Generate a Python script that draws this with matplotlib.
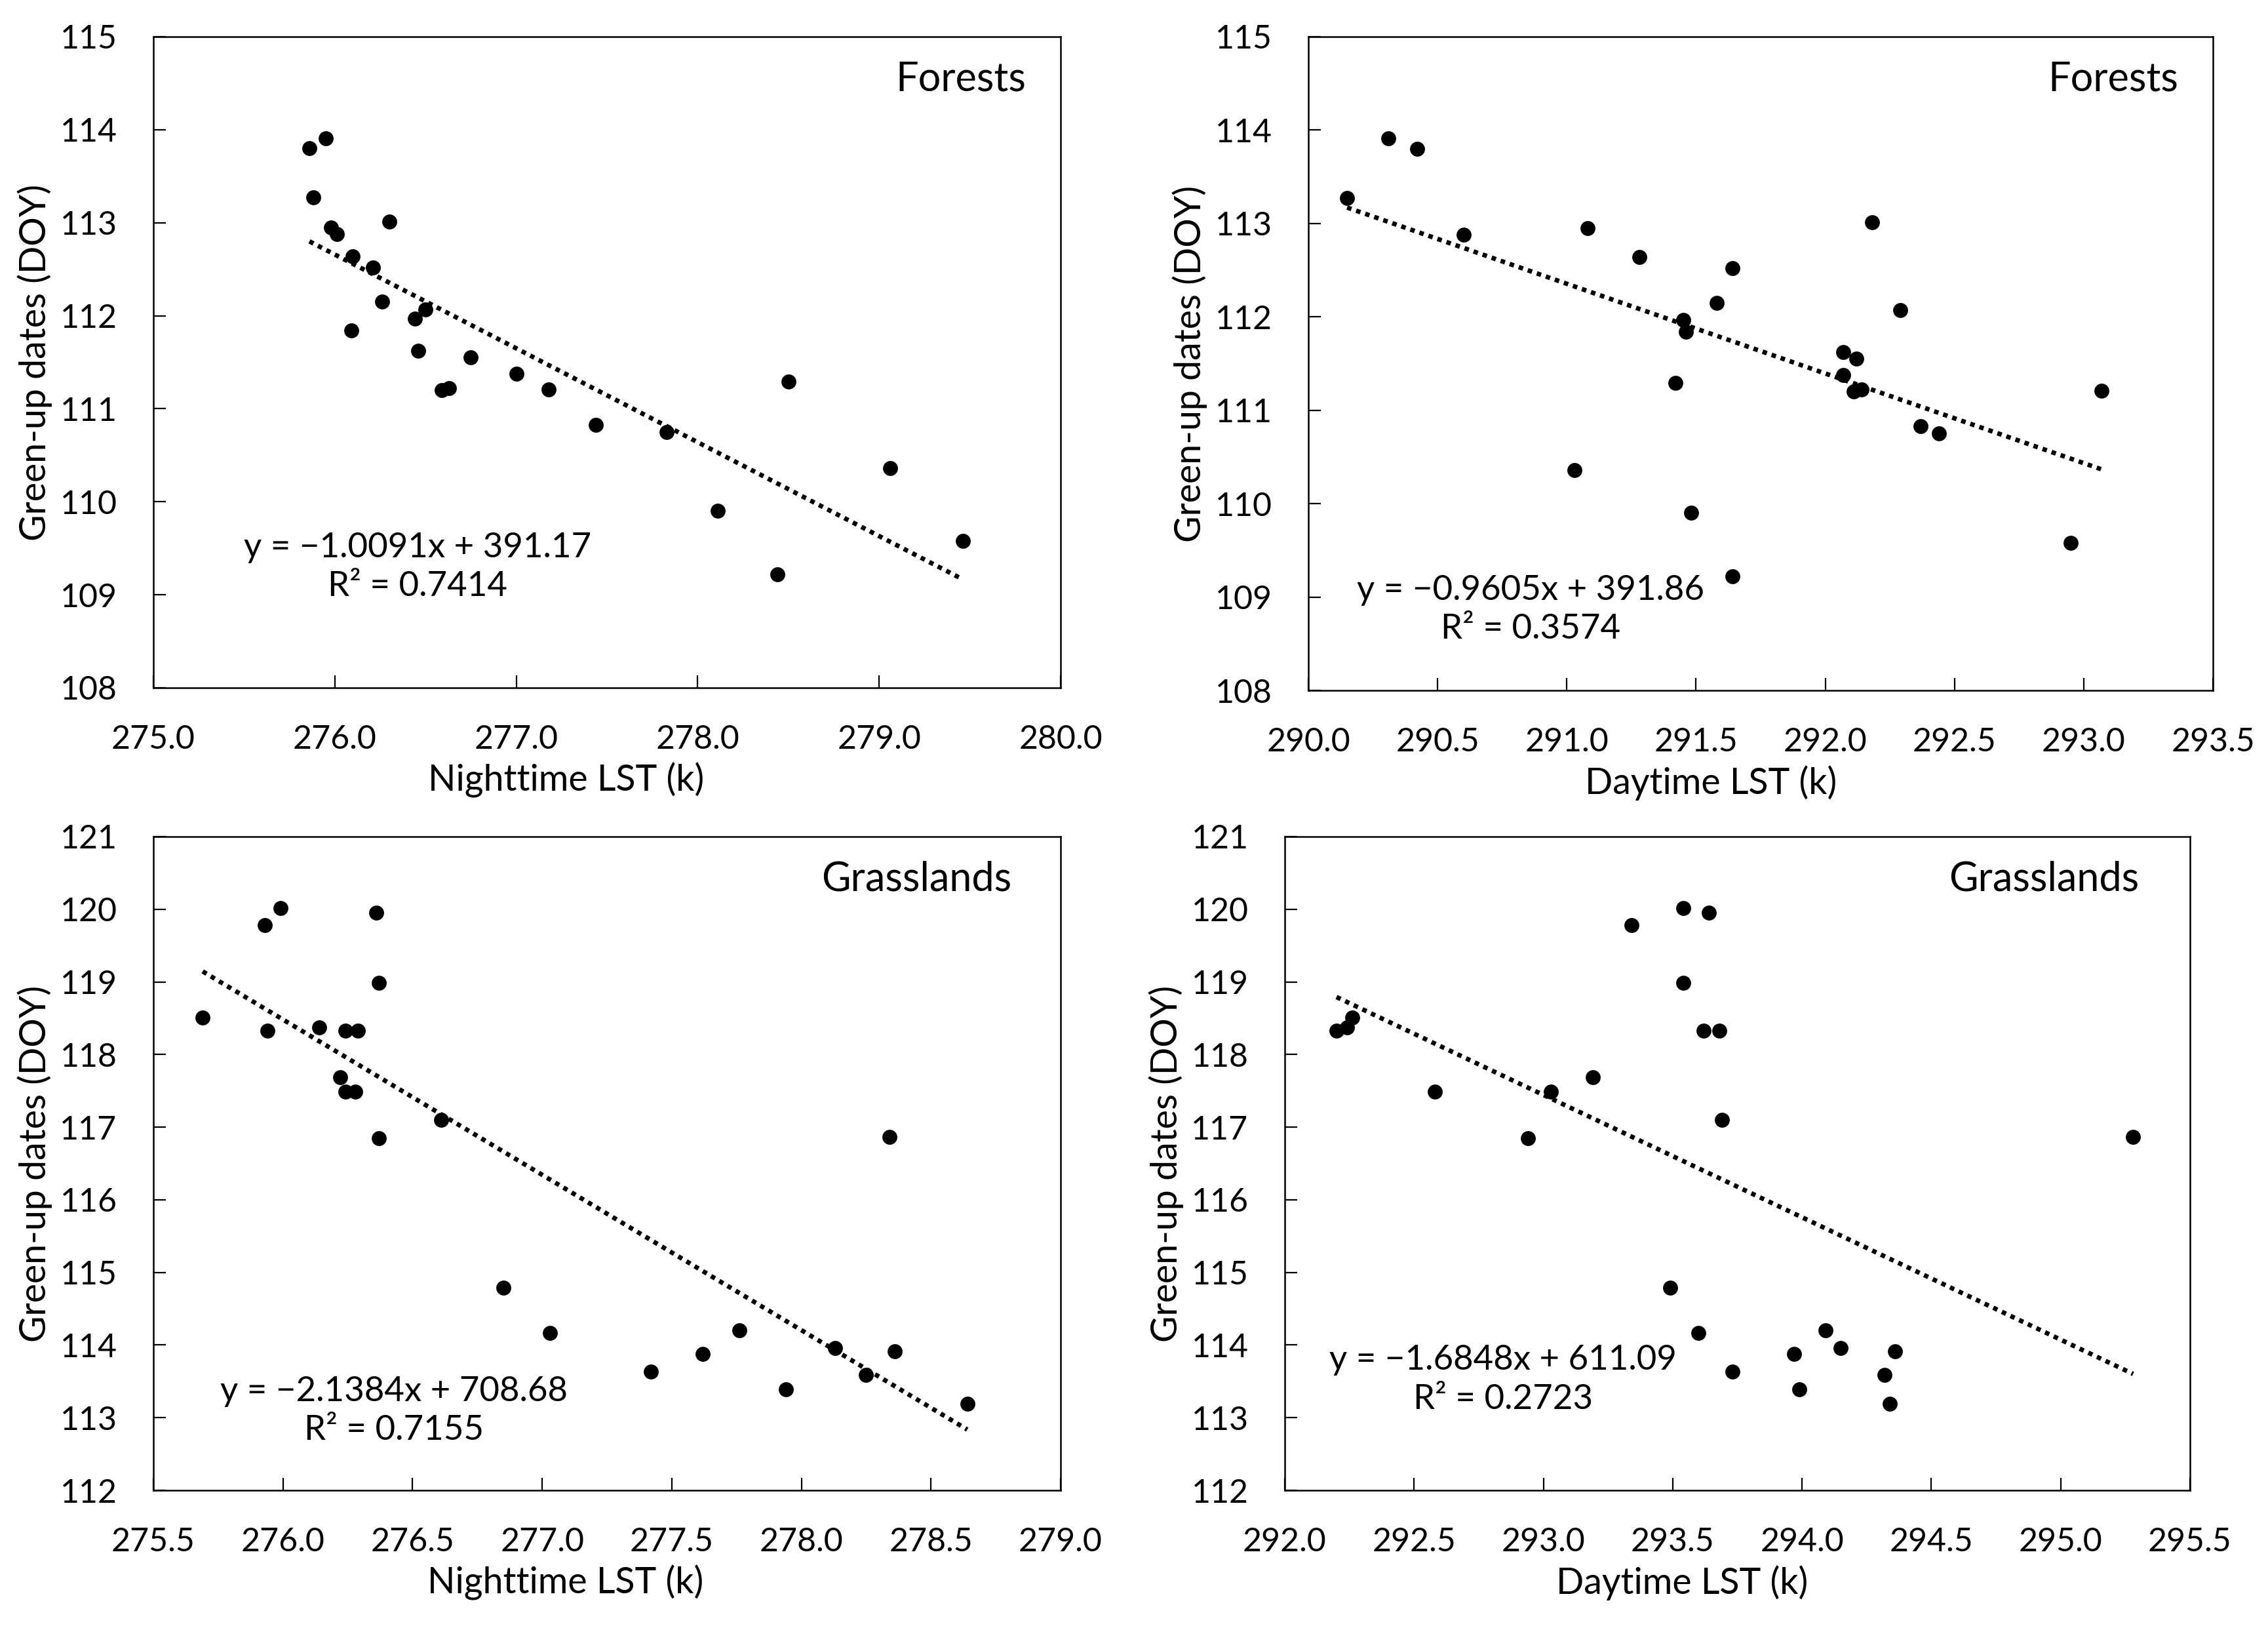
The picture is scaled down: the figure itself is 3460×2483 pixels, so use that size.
import matplotlib
matplotlib.use('Agg')
import matplotlib.pyplot as plt
import numpy as np
from matplotlib.ticker import FormatStrFormatter

# ---------------- data ----------------
forest_doy = [113.91, 113.80, 113.27, 113.01, 112.95, 112.88, 112.64, 112.52, 112.15, 112.07,
              111.97, 111.84, 111.62, 111.55, 111.38, 111.29, 111.21, 111.22, 111.20, 110.83,
              110.75, 110.36, 109.90, 109.58, 109.22]
forest_night_lst = [275.95, 275.86, 275.88, 276.30, 275.98, 276.01, 276.10, 276.21, 276.26, 276.50,
                    276.44, 276.09, 276.46, 276.75, 277.00, 278.50, 277.18, 276.63, 276.59, 277.44,
                    277.83, 279.06, 278.11, 279.46, 278.44]
forest_day_lst = [290.31, 290.42, 290.15, 292.18, 291.08, 290.60, 291.28, 291.64, 291.58, 292.29,
                  291.45, 291.46, 292.07, 292.12, 292.07, 291.42, 293.07, 292.14, 292.11, 292.37,
                  292.44, 291.03, 291.48, 292.95, 291.64]

grass_doy = [118.51, 119.78, 120.02, 118.33, 118.33, 118.33, 118.37, 119.95, 118.99, 117.69,
             117.49, 117.49, 116.85, 117.10, 114.79, 114.17, 113.63, 113.88, 114.20, 113.39,
             113.96, 113.59, 116.87, 113.91, 113.19]
grass_night_lst = [275.69, 275.93, 275.99, 275.94, 276.24, 276.29, 276.14, 276.36, 276.37, 276.22,
                   276.24, 276.28, 276.37, 276.61, 276.85, 277.03, 277.42, 277.62, 277.76, 277.94,
                   278.13, 278.25, 278.34, 278.36, 278.64]
grass_day_lst = [292.26, 293.34, 293.54, 292.20, 293.62, 293.68, 292.24, 293.64, 293.54, 293.19,
                 292.58, 293.03, 292.94, 293.69, 293.49, 293.60, 293.73, 293.97, 294.09, 293.99,
                 294.15, 294.32, 295.28, 294.36, 294.34]

# trend line coefficients (slope, intercept) and R²
fit_forest_night = (-1.0091, 391.17, 0.7414)
fit_forest_day = (-0.9605, 391.86, 0.3574)
fit_grass_night = (-2.1384, 708.68, 0.7155)
fit_grass_day = (-1.6848, 611.09, 0.2723)

x_label_night = "Nighttime LST (k)"
x_label_day = "Daytime LST (k)"
y_label = "Green-up dates (DOY)"

# ---------------- style ----------------
plt.rcParams['font.family'] = ['Lato', 'DejaVu Sans']
FS_TICK = 36
FS_LABEL = 40
FS_EQ = 38
FS_TITLE = 44
W, H = 3460, 2483
fig = plt.figure(figsize=(W / 100, H / 100), dpi=100)


def add_ax(l, t, w, h):
    return fig.add_axes([l / W, 1 - (t + h) / H, w / W, h / H])


panels = [
    dict(rect=(234, 56, 1384, 993), x=forest_night_lst, y=forest_doy, fit=fit_forest_night,
         xlim=(275.0, 280.0), xstep=1.0, ylim=(108, 115), title="Forests",
         xlabel=x_label_night, xlab_x=0.455, eq=(0.291, 0.185), tpos=(0.962, 0.935)),
    dict(rect=(1996, 56, 1380, 997), x=forest_day_lst, y=forest_doy, fit=fit_forest_day,
         xlim=(290.0, 293.5), xstep=0.5, ylim=(108, 115), title="Forests",
         xlabel=x_label_day, xlab_x=0.445, eq=(0.246, 0.123), tpos=(0.962, 0.935)),
    dict(rect=(234, 1276, 1384, 997), x=grass_night_lst, y=grass_doy, fit=fit_grass_night,
         xlim=(275.5, 279.0), xstep=0.5, ylim=(112, 121), title="Grasslands",
         xlabel=x_label_night, xlab_x=0.454, eq=(0.265, 0.121), tpos=(0.946, 0.935)),
    dict(rect=(1960, 1276, 1381, 997), x=grass_day_lst, y=grass_doy, fit=fit_grass_day,
         xlim=(292.0, 295.5), xstep=0.5, ylim=(112, 121), title="Grasslands",
         xlabel=x_label_day, xlab_x=0.439, eq=(0.241, 0.169), tpos=(0.944, 0.935)),
]

for p in panels:
    ax = add_ax(*p['rect'])
    x = np.array(p['x'])
    y = np.array(p['y'])
    ax.scatter(x, y, s=270, c='black', linewidths=0, zorder=3)
    m, b, r2 = p['fit']
    xs = np.array([x.min(), x.max()])
    ax.plot(xs, m * xs + b, color='black', lw=5, linestyle=(0, (1, 1.1)),
            dash_capstyle='butt', zorder=2)

    ax.set_xlim(*p['xlim'])
    ax.set_ylim(*p['ylim'])
    ax.set_xticks(np.arange(p['xlim'][0], p['xlim'][1] + 1e-6, p['xstep']))
    ax.set_yticks(np.arange(p['ylim'][0], p['ylim'][1] + 1, 1))
    ax.xaxis.set_major_formatter(FormatStrFormatter('%.1f'))
    ax.yaxis.set_major_formatter(FormatStrFormatter('%.0f'))
    ax.tick_params(direction='in', length=14, width=1.6, labelsize=FS_TICK, pad=40,
                   colors='black')
    for s in ax.spines.values():
        s.set_linewidth(1.8)
        s.set_color('black')

    ax.set_xlabel(p['xlabel'], fontsize=FS_LABEL, labelpad=9)
    ax.xaxis.label.set_x(p['xlab_x'])
    ax.set_ylabel(y_label, fontsize=FS_LABEL, labelpad=8)

    sign = '\u2212' if m < 0 else '+'
    eq = f"y = {sign}{abs(m):.4f}x + {b:.2f}\nR\u00b2 = {r2:.4f}"
    ax.text(p['eq'][0], p['eq'][1], eq, transform=ax.transAxes, ha='center', va='center',
            fontsize=FS_EQ, linespacing=1.32)
    ax.text(p['tpos'][0], p['tpos'][1], p['title'], transform=ax.transAxes, ha='right',
            va='center', fontsize=FS_TITLE)

fig.savefig('out.png', dpi=100, facecolor='white')
